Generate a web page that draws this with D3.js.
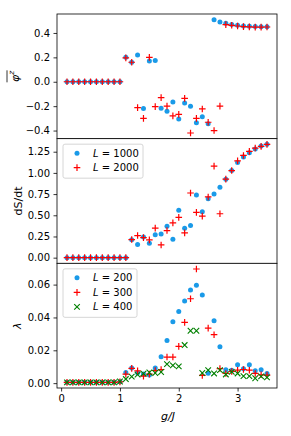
<!DOCTYPE html>
<html>
<head>
<meta charset="utf-8">
<script src="https://cdn.jsdelivr.net/npm/d3@7"></script>
<style>
  body { margin: 0; background: #fff; }
  svg { font-family: "DejaVu Sans", sans-serif; }
</style>
</head>
<body>
<svg width="291" height="436"></svg>
<script>
const gValues = [0.1,0.2,0.3,0.4,0.5,0.6,0.7,0.8,0.9,1.0,1.1,1.2,1.3,1.4,1.5,1.6,1.7,1.8,
  1.9,2.0,2.1,2.2,2.3,2.4,2.5,2.6,2.7,2.8,2.9,3.0,3.1,3.2,3.3,3.4,3.5]

// top panel: order parameter
const phiL1000 = [0,0,0,0,0,0,0,0,0,0,0.20,0.16,0.22,-0.22,0.17,0.174,-0.218,-0.242,
  -0.166,-0.305,-0.174,-0.20,-0.337,-0.286,-0.345,0.509,0.49,0.479,0.47,0.463,0.457,0.455,0.452,0.45,0.45]
const phiL2000 = [0,0,0,0,0,0,0,0,0,0,0.196,0.16,-0.212,-0.30,0.20,-0.204,-0.13,-0.20,
  -0.28,-0.267,-0.136,-0.42,-0.30,-0.223,-0.332,-0.40,-0.20,0.468,0.463,0.457,0.452,0.45,0.448,0.448,0.449]

// middle panel: entropy growth rate
const dsL1000 = [0,0,0,0,0,0,0,0,0,0,0,0.21,0.154,0.245,0.17,0.27,0.28,0.372,0.218,0.56,
  0.348,0.38,0.74,0.542,0.696,0.75,0.83,0.926,1.028,1.123,1.187,1.238,1.282,1.317,1.337]
const dsL2000 = [0,0,0,0,0,0,0,0,0,0,0,0.214,0.261,0.237,0.21,0.348,0.15,0.32,0.41,0.475,
  0.293,0.763,0.534,0.49,0.716,1.08,0.518,0.926,1.028,1.143,1.206,1.254,1.293,1.313,1.337]

// bottom panel: lambda
const lamL200 = [0.0005,0.0005,0.0005,0.0005,0.0005,0.0005,0.0005,0.0005,0.0005,0.0008,
  0.0065,0.0093,0.0063,0.0055,0.0049,0.0093,0.016,0.026,0.0374,0.0437,0.050,0.0567,0.0596,
  0.0537,0.0061,0.038,0.0222,0.0081,0.0079,0.0112,0.0087,0.0112,0.0075,0.0081,0.0059]
const lamL300 = [0.0005,0.0005,0.0005,0.0005,0.0005,0.0005,0.0005,0.0005,0.0005,0.0008,
  0.0055,0.009,0.0075,0.0043,0.0055,0.0077,0.0083,0.0159,0.0159,0.0224,0.037,0.0514,0.0695,
  0.0047,0.0335,0.0295,0.0089,0.0059,0.0071,0.0079,0.0083,0.0079,0.0059,0.0051,0.0049]
const lamL400 = [0.0005,0.0005,0.0005,0.0005,0.0005,0.0005,0.0005,0.0005,0.0005,0.001,
  0.0025,0.004,0.0052,0.0058,0.0065,0.0062,0.0068,0.0116,0.0108,0.0102,0.0232,0.0319,0.0319,
  0.0062,0.0079,0.0059,0.0079,0.0053,0.0069,0.0059,0.0043,0.0043,0.003,0.0041,0.0035]

const yTicksTop = [-0.4,-0.2,0.0,0.2,0.4]
const yTicksMid = [0,0.25,0.5,0.75,1.0,1.25]
const yTicksBot = [0,0.02,0.04,0.06]
const xTicks = [0,1,2,3]

const BLUE = '#1a9ae8'
const RED = '#ff0000'
const GREEN = '#008000'

const LEFT = 57
const RIGHT = 277
const TOP = 14
const BOTTOM = 388
const PH = (BOTTOM - TOP) / 3

const svg = d3.select('svg')
const minus = s => s.replace('-', '\u2212')

function padded(arrs) {
  const all = [].concat(...arrs)
  const lo = d3.min(all), hi = d3.max(all)
  const m = (hi - lo) * 0.05
  return [lo - m, hi + m]
}

const x = d3.scaleLinear().domain(padded([gValues])).range([LEFT, RIGHT])

function marker(g, type, color) {
  if (type === 'dot') {
    g.append('circle').attr('r', 2.5).attr('fill', color)
  } else if (type === 'plus') {
    g.append('path').attr('d', 'M-3.3,0H3.3M0,-3.3V3.3')
      .attr('stroke', color).attr('stroke-width', 1.2).attr('fill', 'none')
  } else {
    g.append('path').attr('d', 'M-2.8,-2.8L2.8,2.8M-2.8,2.8L2.8,-2.8')
      .attr('stroke', color).attr('stroke-width', 1.1).attr('fill', 'none')
  }
}

function makePanel(idx, series, ticks, fmt) {
  const top = TOP + idx * PH
  const y = d3.scaleLinear()
    .domain(padded(series.map(s => s.values)))
    .range([top + PH, top])

  const g = svg.append('g').attr('class', 'panel')
  g.append('rect')
    .attr('x', LEFT).attr('y', top)
    .attr('width', RIGHT - LEFT).attr('height', PH)
    .attr('fill', '#fff')

  for (const s of series) {
    g.selectAll('.pt-' + s.name)
      .data(s.values)
      .enter().append('g')
        .attr('transform', (d, i) => `translate(${x(gValues[i])},${y(d)})`)
        .each(function() { marker(d3.select(this), s.type, s.color) })
  }

  const ax = g.append('g')
    .attr('transform', `translate(${LEFT},0)`)
    .call(d3.axisLeft(y).tickValues(ticks).tickSize(3.5).tickPadding(3.5)
      .tickFormat(d => minus(fmt(d))))
  ax.select('.domain').remove()
  ax.selectAll('text').attr('font-size', 10).attr('fill', '#000')
    .attr('font-family', '"DejaVu Sans", sans-serif')
  ax.selectAll('line').attr('stroke', '#000').attr('stroke-width', 0.8)

  g.append('rect')
    .attr('x', LEFT).attr('y', top)
    .attr('width', RIGHT - LEFT).attr('height', PH)
    .attr('fill', 'none').attr('stroke', '#000').attr('stroke-width', 0.8)
  return {g, top}
}

function legend(p, entries) {
  const rowH = 14.5
  const lx = 63, ly = p.top + 5.5
  p.g.append('rect')
    .attr('x', lx).attr('y', ly)
    .attr('width', entries.w).attr('height', entries.items.length * rowH + 5)
    .attr('rx', 2).attr('fill', '#fff').attr('fill-opacity', 0.8)
    .attr('stroke', '#ccc').attr('stroke-width', 0.8)
  entries.items.forEach((e, i) => {
    const cy = ly + 9 + i * rowH
    const mg = p.g.append('g').attr('transform', `translate(${lx + 14},${cy})`)
    marker(mg, e.type, e.color)
    const t = p.g.append('text').attr('x', lx + 30).attr('y', cy + 3.6)
      .attr('font-size', 10)
    t.append('tspan').attr('font-style', 'italic').text('L')
    t.append('tspan').text(' = ' + e.label)
  })
}

// top panel
const p1 = makePanel(0, [
  {name: 'a', values: phiL1000, type: 'dot', color: BLUE},
  {name: 'b', values: phiL2000, type: 'plus', color: RED}
], yTicksTop, d3.format('.1f'))

// middle panel
const p2 = makePanel(1, [
  {name: 'a', values: dsL1000, type: 'dot', color: BLUE},
  {name: 'b', values: dsL2000, type: 'plus', color: RED}
], yTicksMid, d3.format('.2f'))
legend(p2, {w: 80, items: [
  {type: 'dot', color: BLUE, label: '1000'},
  {type: 'plus', color: RED, label: '2000'}
]})

// bottom panel
const p3 = makePanel(2, [
  {name: 'a', values: lamL200, type: 'dot', color: BLUE},
  {name: 'b', values: lamL300, type: 'plus', color: RED},
  {name: 'c', values: lamL400, type: 'cross', color: GREEN}
], yTicksBot, d3.format('.2f'))
legend(p3, {w: 74, items: [
  {type: 'dot', color: BLUE, label: '200'},
  {type: 'plus', color: RED, label: '300'},
  {type: 'cross', color: GREEN, label: '400'}
]})

// x axis (bottom only)
const xa = svg.append('g')
  .attr('transform', `translate(0,${BOTTOM})`)
  .call(d3.axisBottom(x).tickValues(xTicks).tickSize(3.5).tickPadding(3.5).tickFormat(d3.format('d')))
xa.select('.domain').remove()
xa.selectAll('text').attr('font-size', 10).attr('fill', '#000')
  .attr('font-family', '"DejaVu Sans", sans-serif')
xa.selectAll('line').attr('stroke', '#000').attr('stroke-width', 0.8)

// axis labels
svg.append('text')
  .attr('x', (LEFT + RIGHT) / 2 + 1).attr('y', 420)
  .attr('text-anchor', 'middle').attr('font-size', 11).attr('font-style', 'italic')
  .text('g/J')

svg.append('text')
  .attr('transform', `translate(22,${TOP + 1.5 * PH}) rotate(-90)`)
  .attr('text-anchor', 'middle').attr('font-size', 11)
  .text('dS/dt')

svg.append('text')
  .attr('transform', `translate(21,${TOP + 2.5 * PH}) rotate(-90)`)
  .attr('text-anchor', 'middle').attr('font-size', 11).attr('font-style', 'italic')
  .text('λ')

const phiLabel = svg.append('g')
  .attr('transform', `translate(19,${TOP + 0.5 * PH}) rotate(-90)`)
const phiText = phiLabel.append('text')
  .attr('text-anchor', 'middle').attr('font-size', 11).attr('font-style', 'italic')
phiText.append('tspan').text('φ')
phiText.append('tspan').attr('font-size', 7.5).attr('dy', -5).text('z')
phiLabel.append('line')
  .attr('x1', -6).attr('x2', 6).attr('y1', -12).attr('y2', -12)
  .attr('stroke', '#000').attr('stroke-width', 0.8)
</script>
</body>
</html>
